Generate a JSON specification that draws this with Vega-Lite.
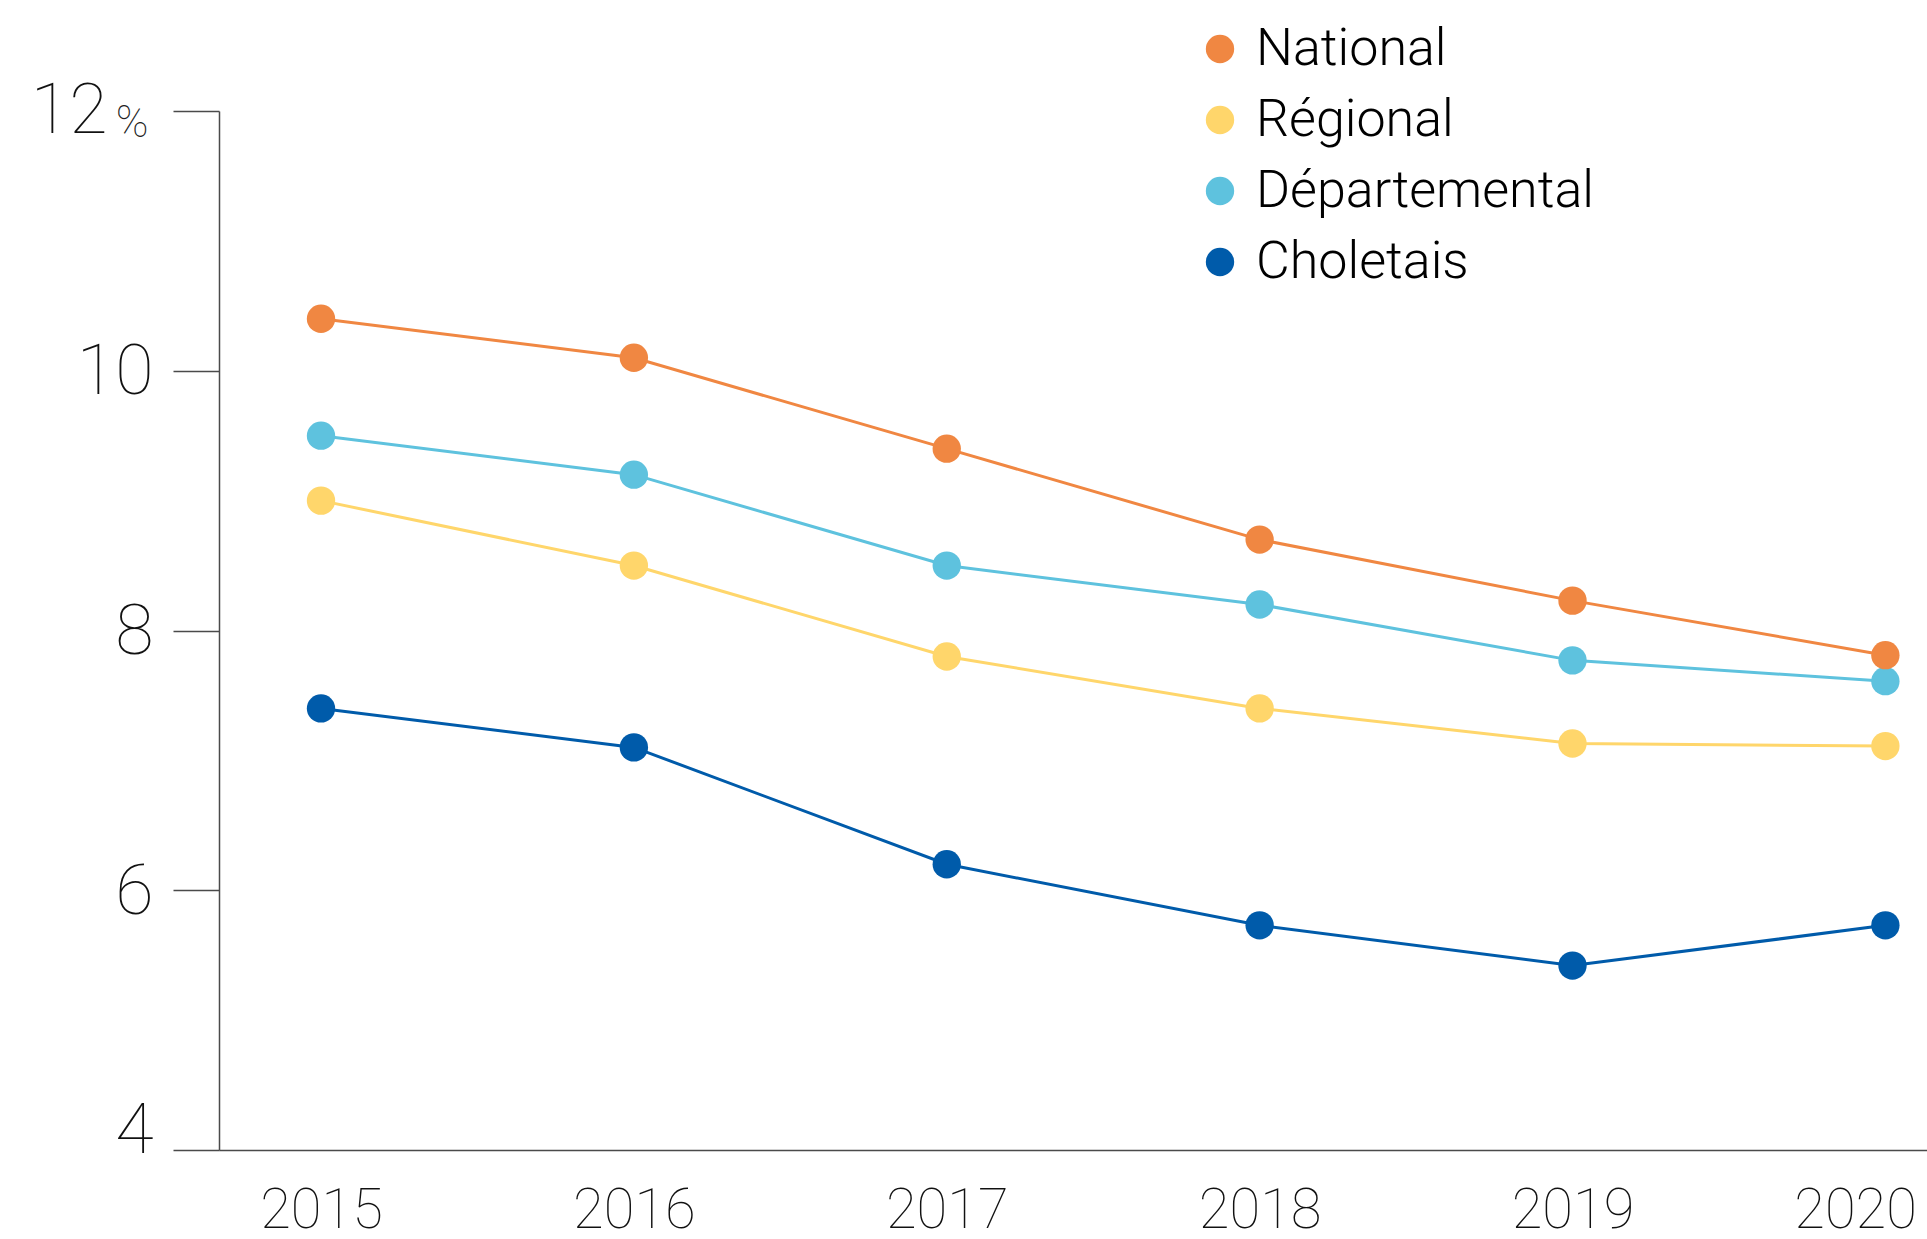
{
  "$schema": "https://vega.github.io/schema/vega-lite/v6.json",
  "width": 1708,
  "height": 1039,
  "autosize": {"type": "none"},
  "padding": {"left": 219, "top": 111, "right": 0, "bottom": 89},
  "background": "white",
  "config": {
    "view": {"stroke": null},
    "font": "Roboto"
  },
  "data": {
    "values": [
      {"year": 2015, "series": "Choletais", "value": 7.4},
      {"year": 2016, "series": "Choletais", "value": 7.1},
      {"year": 2017, "series": "Choletais", "value": 6.2},
      {"year": 2018, "series": "Choletais", "value": 5.73},
      {"year": 2019, "series": "Choletais", "value": 5.42},
      {"year": 2020, "series": "Choletais", "value": 5.73},
      {"year": 2015, "series": "Régional", "value": 9.0},
      {"year": 2016, "series": "Régional", "value": 8.5},
      {"year": 2017, "series": "Régional", "value": 7.8},
      {"year": 2018, "series": "Régional", "value": 7.4},
      {"year": 2019, "series": "Régional", "value": 7.13},
      {"year": 2020, "series": "Régional", "value": 7.11},
      {"year": 2015, "series": "Départemental", "value": 9.5},
      {"year": 2016, "series": "Départemental", "value": 9.2},
      {"year": 2017, "series": "Départemental", "value": 8.5},
      {"year": 2018, "series": "Départemental", "value": 8.2},
      {"year": 2019, "series": "Départemental", "value": 7.77},
      {"year": 2020, "series": "Départemental", "value": 7.61},
      {"year": 2015, "series": "National", "value": 10.4},
      {"year": 2016, "series": "National", "value": 10.1},
      {"year": 2017, "series": "National", "value": 9.4},
      {"year": 2018, "series": "National", "value": 8.7},
      {"year": 2019, "series": "National", "value": 8.23},
      {"year": 2020, "series": "National", "value": 7.81}
    ]
  },
  "encoding": {
    "x": {
      "field": "year",
      "type": "quantitative",
      "scale": {"domain": [2014.674, 2020.133], "nice": false, "zero": false},
      "axis": {
        "title": null,
        "values": [2015, 2016, 2017, 2018, 2019, 2020],
        "format": "d",
        "grid": false,
        "ticks": false,
        "domainColor": "#4a4a4a",
        "domainWidth": 1.5,
        "labelFont": "Roboto",
        "labelFontWeight": 100,
        "labelFontSize": 56,
        "labelColor": "#111111",
        "labelPadding": 33,
        "labelFlush": false,
        "labelOverlap": false,
        "labelAlign": {"condition": {"test": "datum.value == 2020", "value": "right"}, "value": "center"},
        "labelOffset": {"condition": {"test": "datum.value == 2020", "value": 31}, "value": 0}
      }
    },
    "color": {
      "field": "series",
      "type": "nominal",
      "scale": {
        "domain": ["National", "Régional", "Départemental", "Choletais"],
        "range": ["#f08742", "#ffd66b", "#5ec2de", "#005baa"]
      },
      "legend": {
        "title": null,
        "orient": "none",
        "legendX": 975,
        "legendY": -88,
        "padding": 0,
        "symbolType": "circle",
        "symbolSize": 804,
        "symbolStrokeWidth": 0,
        "symbolOpacity": 1,
        "labelFont": "Roboto",
        "labelFontWeight": 300,
        "labelFontSize": 52,
        "labelOffset": 10,
        "labelLimit": 800,
        "rowPadding": 19,
        "labelColor": {"condition": {"test": "datum.label === 'Choletais'", "value": "#0a5fad"}, "value": "#000000"}
      }
    }
  },
  "layer": [
    {
      "mark": {"type": "line", "strokeWidth": 3},
      "encoding": {
        "y": {
          "field": "value",
          "type": "quantitative",
          "scale": {"domain": [4, 12], "nice": false, "zero": false},
          "axis": {
            "orient": "left",
            "title": null,
            "values": [4, 6, 8, 10, 12],
            "labelExpr": "datum.value == 12 ? '' : datum.label",
            "grid": false,
            "tickSize": 46,
            "tickColor": "#4a4a4a",
            "tickWidth": 1.5,
            "domainColor": "#4a4a4a",
            "domainWidth": 1.5,
            "labelFont": "Roboto",
            "labelFontWeight": 100,
            "labelFontSize": 70,
            "labelColor": "#111111",
            "labelPadding": 20,
            "labelBaseline": "middle",
            "labelOffset": {"condition": {"test": "datum.value == 4", "value": -19}, "value": 2}
          }
        }
      }
    },
    {
      "mark": {"type": "point", "filled": true, "opacity": 1, "size": 804, "shape": "circle"},
      "encoding": {
        "y": {"field": "value", "type": "quantitative", "axis": null}
      }
    },
    {
      "mark": {"type": "point", "opacity": 0},
      "encoding": {
        "y": {
          "field": "value",
          "type": "quantitative",
          "axis": {
            "orient": "left",
            "title": null,
            "values": [12],
            "labelExpr": "'12'",
            "grid": false,
            "ticks": false,
            "domain": false,
            "labelFont": "Roboto",
            "labelFontWeight": 100,
            "labelFontSize": 70,
            "labelColor": "#111111",
            "labelPadding": 112,
            "labelBaseline": "middle"
          }
        }
      }
    },
    {
      "mark": {"type": "point", "opacity": 0},
      "encoding": {
        "y": {
          "field": "value",
          "type": "quantitative",
          "axis": {
            "orient": "left",
            "title": null,
            "values": [12],
            "labelExpr": "'%'",
            "grid": false,
            "ticks": false,
            "domain": false,
            "labelFont": "Roboto",
            "labelFontWeight": 100,
            "labelFontSize": 44,
            "labelColor": "#222222",
            "labelPadding": 71,
            "labelBaseline": "alphabetic",
            "labelOffset": 25
          }
        }
      }
    }
  ],
  "resolve": {"scale": {"y": "shared"}, "axis": {"y": "independent"}}
}
